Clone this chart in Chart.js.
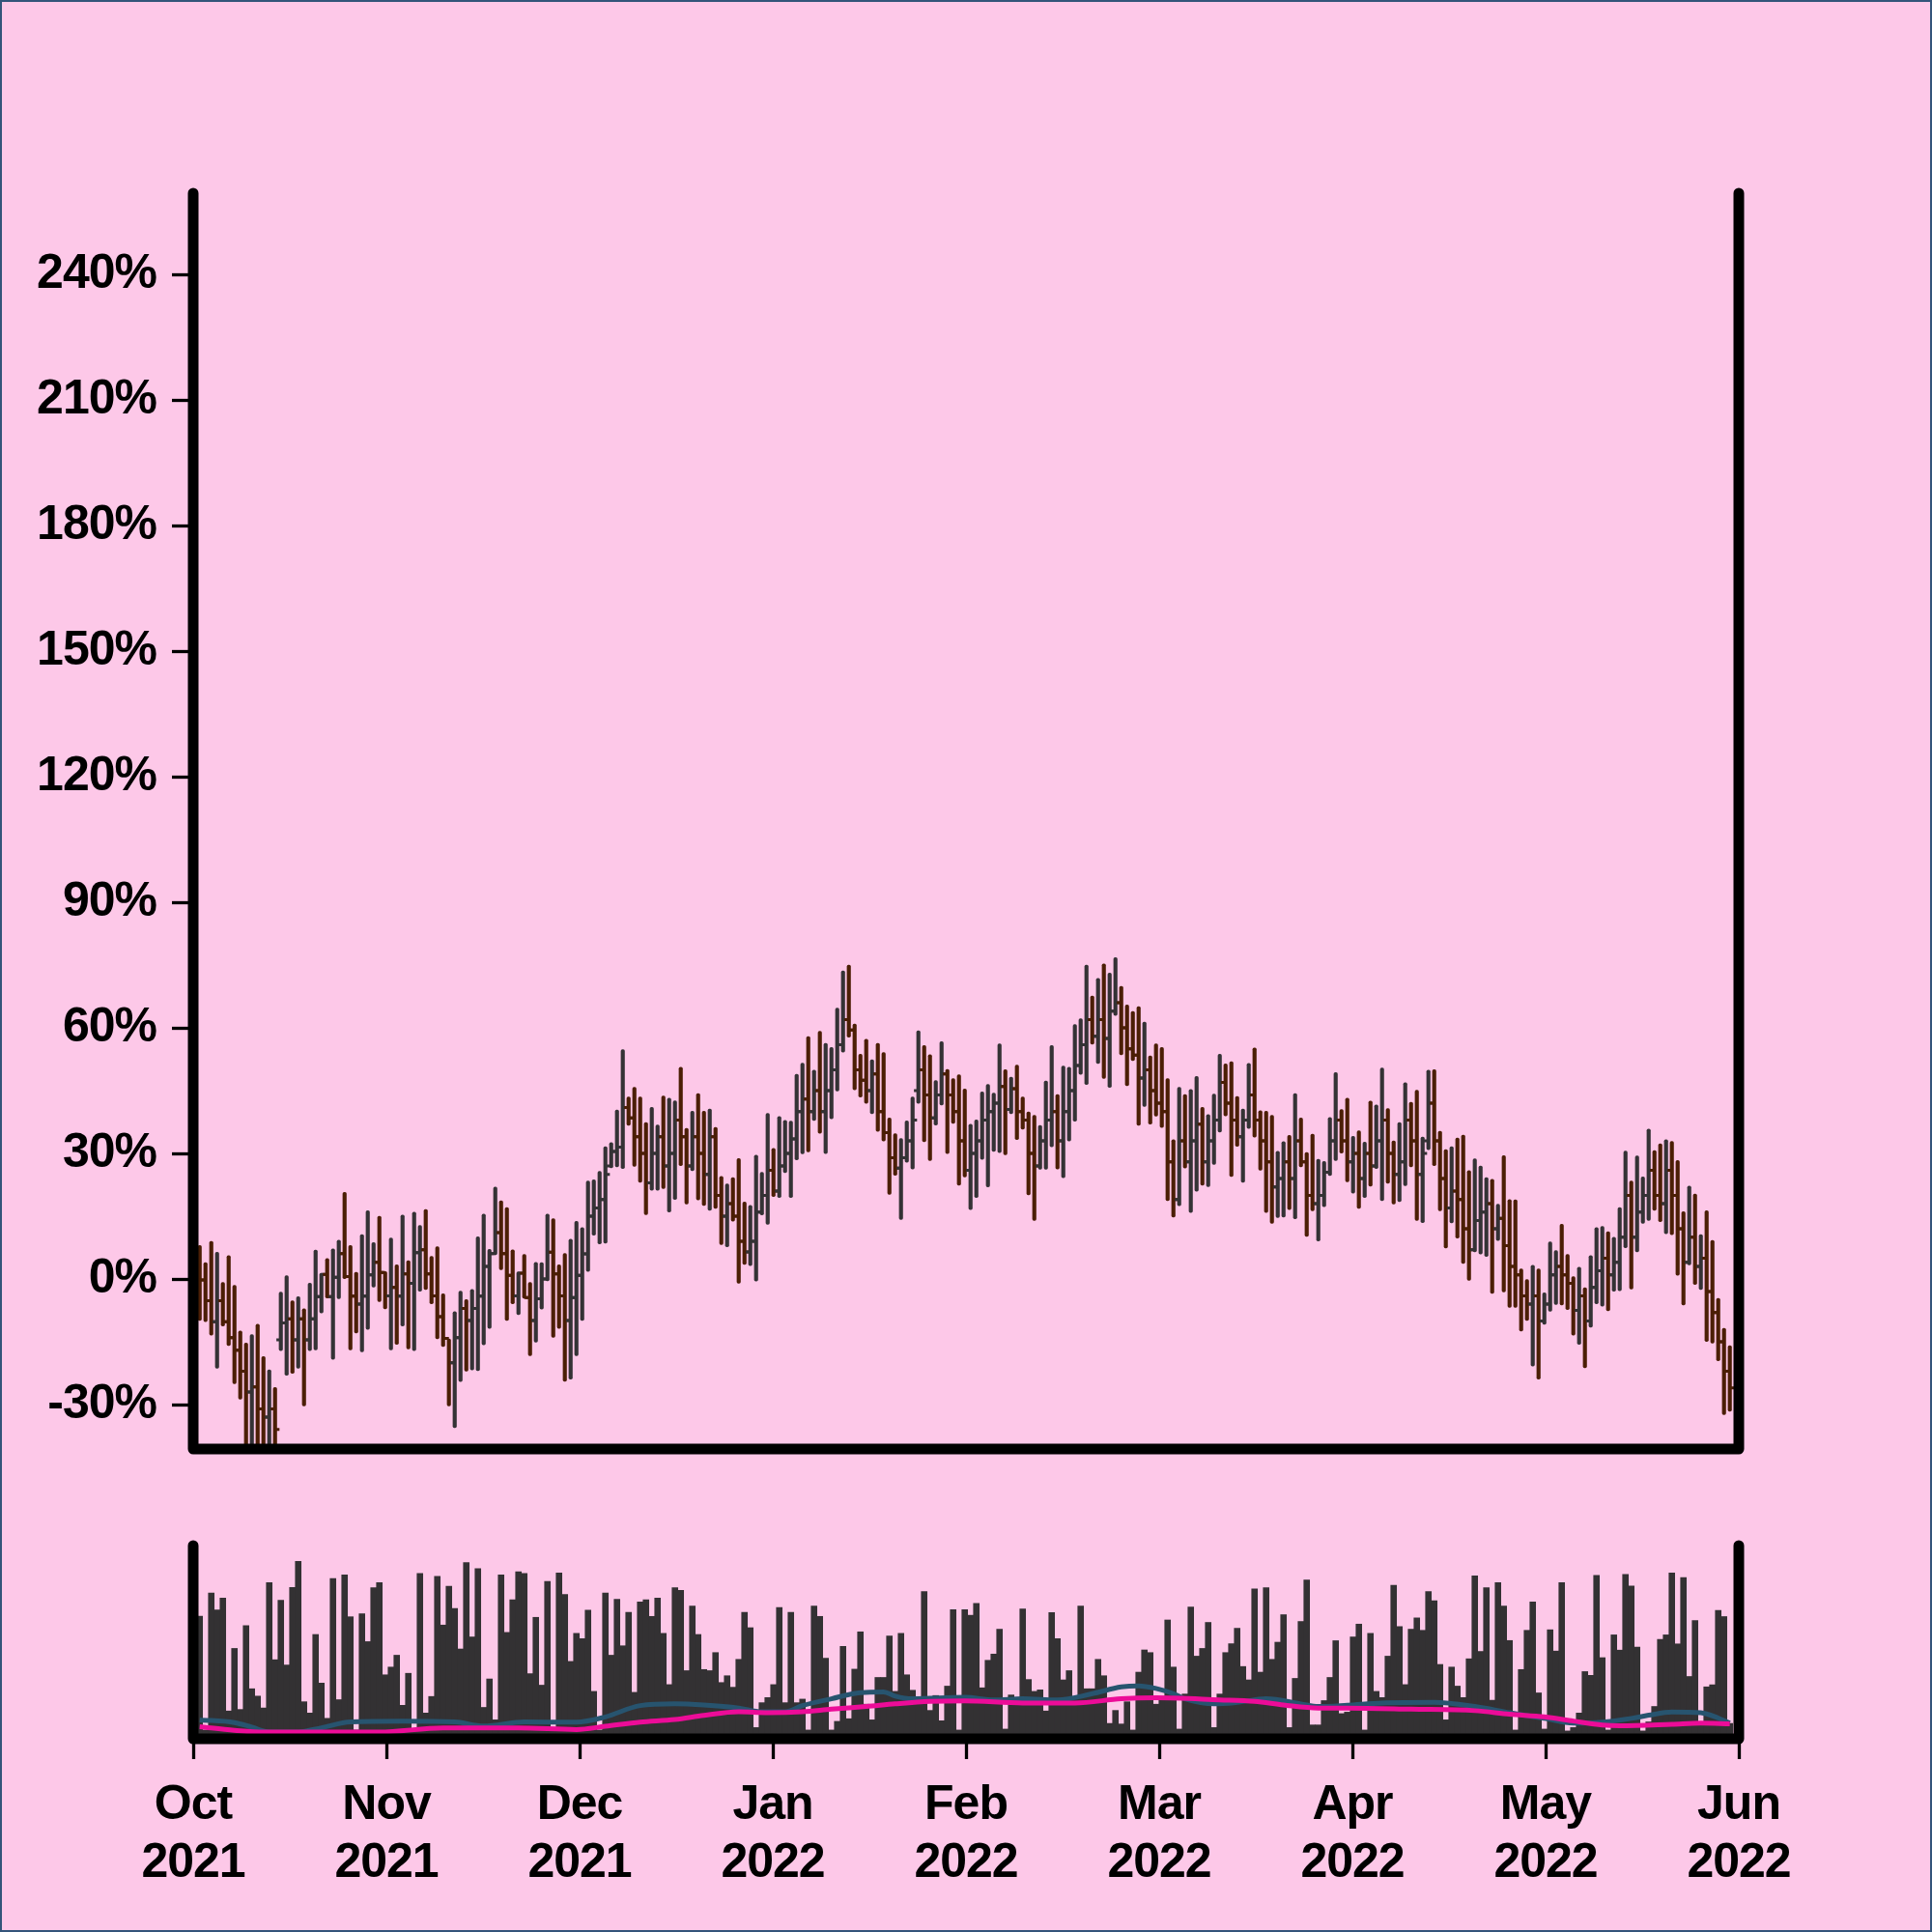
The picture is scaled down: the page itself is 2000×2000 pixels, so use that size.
<!DOCTYPE html>
<html>
<head>
<meta charset="utf-8">
<script src="https://cdn.jsdelivr.net/npm/chart.js@4.4.1/dist/chart.umd.min.js"></script>
<style>
html,body{margin:0;padding:0;background:#fdc8e8;}
#wrap{position:relative;width:2000px;height:2000px;background:#fdc8e8;overflow:hidden;}
#priceCanvas{position:absolute;left:0;top:0;}
#volCanvas{position:absolute;left:0;top:1540px;}
#frame{position:absolute;left:0;top:0;width:2000px;height:2000px;box-sizing:border-box;border:2px solid #33547a;pointer-events:none;}
</style>
</head>
<body>
<div id="wrap">
<canvas id="priceCanvas" width="2000" height="1540"></canvas>
<canvas id="volCanvas" width="2000" height="460"></canvas>
<div id="frame"></div>
</div>
<script>
// ---------- DATA (percent change, one bar per session) ----------
const highs = [
8.0,3.9,9.0,6.4,-0.8,5.6,-1.5,-12.4,-15.3,-13.3,
-10.8,-18.5,-21.7,-25.9,-3.1,0.8,-5.2,-4.2,-7.1,-1.0,
6.9,1.4,4.9,7.2,9.3,20.7,8.0,1.6,10.6,16.3,
8.7,15.0,1.8,9.8,3.4,15.3,4.4,16.0,12.8,16.6,
5.4,7.7,-3.5,-14.3,-7.8,-2.9,-4.9,-2.5,10.1,15.5,
7.1,22.0,18.7,17.1,7.0,1.7,5.9,-0.8,4.0,3.9,
15.5,14.4,3.4,6.1,9.5,13.8,12.3,23.4,23.7,25.7,
31.6,32.6,40.4,54.8,43.5,45.8,43.5,37.4,41.0,36.8,
43.7,43.2,42.6,50.6,36.0,40.1,44.3,40.1,40.6,36.2,
24.5,22.7,24.2,28.8,18.4,17.6,29.6,25.5,39.6,31.2,
38.8,37.9,37.7,48.9,51.6,57.9,49.9,59.2,56.3,55.3,
64.7,73.6,75.0,60.9,53.7,57.3,52.4,56.3,54.1,38.5,
34.7,33.6,37.8,43.5,59.3,55.8,53.6,47.4,56.7,50.1,
47.9,48.8,45.4,37.0,38.0,44.7,46.5,44.4,56.2,50.0,
48.2,51.1,43.5,39.9,39.1,36.7,47.3,55.8,44.1,50.9,
50.6,60.8,62.2,75.0,67.6,71.8,75.3,73.1,76.8,69.9,
65.5,63.9,65.1,61.4,53.3,56.2,55.3,47.9,33.3,45.8,
44.1,45.3,48.4,41.0,39.3,44.2,53.7,51.4,51.9,43.6,
40.6,51.5,55.2,40.2,40.1,39.1,30.5,32.8,34.3,44.3,
38.5,30.2,34.6,28.6,28.1,38.6,49.3,40.5,43.2,34.1,
35.4,32.7,42.5,41.6,50.4,40.7,33.0,37.4,46.9,42.2,
45.1,33.9,49.9,50.0,35.3,30.9,31.6,33.7,34.4,25.9,
28.7,27.0,24.2,23.8,17.9,29.5,19.0,18.9,2.4,0.0,
3.3,2.4,-3.3,8.9,6.8,13.1,5.9,0.6,2.8,-2.1,
5.6,12.3,12.6,11.3,10.0,17.1,30.6,23.4,29.4,24.4,
35.8,30.7,32.3,33.3,32.9,28.3,16.1,22.2,20.3,10.6,
16.3,9.2,-4.6,-11.8,-15.9
];
const lows = [
-9.9,-10.2,-13.4,-21.3,-11.2,-15.9,-25.0,-28.7,-44,-44,
-44,-44,-44,-44,-17.1,-23.0,-22.5,-21.3,-30.3,-17.1,
-16.9,-8.1,-4.5,-19.2,-4.7,0.0,-16.9,-12.9,-17.4,-12.0,
-1.9,-5.4,-7.1,-16.9,-15.6,-11.2,-16.7,-17.1,-2.9,-2.5,
-5.9,-14.3,-16.1,-30.3,-35.5,-24.5,-22.0,-21.7,-21.9,-15.7,
-11.8,5.8,2.2,-9.9,-5.9,-8.5,-4.6,-18.3,-15.1,-7.2,
-0.4,-13.9,-11.8,-24.4,-23.9,-18.3,-9.9,1.8,10.5,8.4,
8.6,26.6,26.8,26.4,36.7,26.9,23.1,15.4,21.2,21.2,
21.6,16.0,19.0,27.1,17.9,25.9,18.9,17.6,16.4,16.9,
8.2,7.7,13.8,-1.0,3.5,3.2,-0.5,15.3,13.1,19.7,
19.5,25.4,19.5,28.5,29.9,30.4,37.9,34.8,30.0,38.3,
44.9,54.2,57.8,45.2,43.5,42.0,39.5,35.3,33.0,20.2,
24.8,14.2,27.9,26.3,42.0,32.8,28.3,36.8,41.6,30.0,
37.2,22.4,24.4,16.6,19.5,28.6,22.0,30.5,30.2,29.7,
39.5,33.3,35.8,20.1,14.0,26.2,26.2,31.6,26.3,24.2,
33.0,37.7,48.9,46.5,56.1,51.5,47.9,45.8,63.0,53.6,
46.2,52.2,36.7,41.2,37.0,38.9,36.2,18.7,14.8,17.5,
26.5,15.9,21.0,22.4,22.1,27.4,35.1,39.0,24.5,31.7,
23.1,36.0,33.9,26.0,15.9,13.3,14.7,14.8,16.6,14.4,
26.8,10.2,16.3,9.1,17.3,24.7,28.3,30.1,23.2,20.5,
16.9,19.5,22.2,26.4,18.7,22.9,17.9,18.5,22.3,26.8,
14.0,13.5,30.9,27.1,16.3,7.4,13.4,9.8,3.7,-0.3,
6.5,6.0,5.4,-3.4,9.2,-3.1,-6.8,-6.8,-12.4,-9.9,
-20.8,-23.9,-10.8,-7.7,-6.1,-6.2,-7.3,-13.4,-15.6,-21.2,
-11.5,-5.9,-6.5,-7.6,-2.9,-2.8,7.5,-2.4,6.5,13.3,
14.0,16.4,13.7,10.8,10.6,0.9,-6.2,3.4,-1.3,-2.5,
-14.9,-15.3,-19.5,-32.4,-31.6
];
const opens = [
3.0,-0.2,-5.2,-10.2,-5.2,-10.2,-14.0,-17.0,-22.0,-27.0,
-25.8,-31.0,-33.0,-31.0,-14.5,-10.5,-9.5,-14.5,-9.5,-14.5,
-9.5,-4.2,1.1,-4.2,0.4,6.1,0.6,-4.1,-6.0,-4.1,
1.0,4.0,1.6,-4.0,-2.0,-4.1,1.2,-1.0,6.3,7.0,
1.2,-4.0,-9.0,-14.2,-20.0,-14.0,-7.0,-9.9,-7.0,-4.1,
3.0,6.1,11.1,6.1,0.9,-4.0,1.4,-4.4,-9.9,-4.7,
0.0,6.4,1.2,-4.0,-9.9,-4.4,0.9,6.0,15.0,17.0,
19.0,27.0,30.5,31.5,41.0,38.5,34.0,30.0,23.0,30.0,
34.0,27.0,30.0,38.0,34.0,27.0,34.0,30.0,25.0,34.0,
20.0,15.0,18.0,15.0,9.0,6.5,9.0,16.0,20.0,26.0,
21.0,27.0,30.0,33.5,40.0,43.0,40.0,45.0,40.0,45.0,
50.0,56.0,62.0,59.5,50.0,47.5,45.0,49.0,40.0,35.0,
29.0,26.5,29.0,33.0,45.0,50.0,44.0,38.5,44.0,49.0,
44.0,40.0,33.0,26.0,30.0,33.0,38.0,40.0,42.0,46.0,
40.5,45.5,40.0,38.0,30.0,27.0,33.0,38.0,40.0,33.0,
40.0,45.0,51.0,56.0,62.0,58.0,62.0,57.5,64.0,66.0,
60.0,55.0,53.5,48.0,50.0,45.0,42.0,40.0,28.0,19.0,
33.0,28.0,33.0,37.0,28.0,33.0,38.0,47.0,42.0,38.0,
34.0,38.0,44.0,38.0,33.0,28.0,22.0,24.0,28.0,24.0,
33.0,28.0,20.0,18.0,20.0,25.5,33.0,38.0,33.0,28.0,
30.0,24.0,30.0,27.0,33.0,38.0,30.0,25.0,28.0,38.0,
33.0,25.0,33.0,42.0,33.0,24.0,17.0,21.0,19.0,12.0,
7.0,14.0,16.0,18.0,12.0,14.5,8.0,3.0,1.0,-4.0,
-6.0,-4.0,-10.0,-6.0,1.0,3.0,1.0,-1.0,-7.5,-4.0,
-10.0,-2.0,2.0,5.0,1.0,4.0,10.0,20.0,10.0,16.0,
20.0,26.0,20.0,18.0,26.0,20.0,12.0,4.0,10.0,3.0,
5.0,-3.0,-8.0,-15.0,-22.0
];
const closes = [
-0.2,-5.2,-10.2,-5.2,-10.2,-14.0,-17.0,-22.0,-27.0,-25.8,
-31.0,-33.0,-31.0,-35.9,-10.5,-9.5,-14.5,-9.5,-14.5,-9.5,
-4.2,1.1,-4.2,0.4,6.1,0.6,-4.1,-6.0,-4.1,1.0,
4.0,1.6,-4.0,-2.0,-4.1,1.2,-1.0,6.3,7.0,1.2,
-4.0,-9.0,-14.2,-20.0,-14.0,-7.0,-9.9,-7.0,-4.1,3.0,
6.1,11.1,6.1,0.9,-4.0,1.4,-4.4,-9.9,-4.7,0.0,
6.4,1.2,-4.0,-9.9,-4.4,0.9,6.0,15.0,17.0,19.0,
25.0,30.5,31.5,41.0,38.5,34.0,30.0,23.0,30.0,34.0,
27.0,30.0,38.0,34.0,27.0,34.0,30.0,25.0,34.0,20.0,
15.0,18.0,15.0,9.0,6.5,9.0,16.0,20.0,26.0,21.0,
27.0,30.0,33.5,40.0,43.0,40.0,45.0,40.0,45.0,50.0,
56.0,62.0,59.5,50.0,47.5,45.0,49.0,40.0,35.0,29.0,
26.5,29.0,33.0,38.0,50.0,44.0,38.5,44.0,49.0,44.0,
40.0,33.0,26.0,30.0,33.0,38.0,40.0,42.0,46.0,40.5,
45.5,40.0,38.0,30.0,27.0,33.0,38.0,40.0,33.0,40.0,
45.0,51.0,56.0,62.0,58.0,62.0,57.5,64.0,66.0,60.0,
55.0,53.5,48.0,50.0,45.0,42.0,40.0,28.0,19.0,33.0,
28.0,33.0,37.0,28.0,33.0,38.0,47.0,42.0,38.0,34.0,
38.0,44.0,38.0,33.0,28.0,22.0,24.0,28.0,24.0,33.0,
28.0,20.0,18.0,20.0,25.5,33.0,38.0,33.0,28.0,30.0,
24.0,30.0,27.0,33.0,38.0,30.0,25.0,28.0,38.0,33.0,
25.0,30.0,42.0,33.0,24.0,17.0,21.0,19.0,12.0,7.0,
14.0,16.0,18.0,12.0,14.5,8.0,3.0,1.0,-4.0,-6.0,
-4.0,-10.0,-6.0,1.0,3.0,1.0,-1.0,-7.5,-4.0,-10.0,
-2.0,2.0,5.0,1.0,4.0,10.0,20.0,10.0,16.0,20.0,
26.0,20.0,18.0,26.0,20.0,12.0,4.0,10.0,3.0,5.0,
-3.0,-8.0,-15.0,-22.0,-26.0
];
const volumes = [
61.9,1.5,74.2,65.2,71.5,11.6,44.8,12.4,56.9,23.4,
19.5,13.2,79.7,38.8,70.4,36.0,77.2,91.0,16.5,10.5,
52.2,26.4,7.7,81.9,17.6,83.8,61.6,1.5,63.2,48.4,
77.0,79.7,30.8,34.9,41.2,14.6,31.6,1.5,84.6,10.5,
19.3,83.0,57.2,77.8,66.0,44.5,90.4,50.9,87.1,13.5,
28.6,6.9,83.8,53.3,70.6,85.5,84.6,31.4,61.3,25.3,
80.3,1.5,84.9,73.4,37.9,52.8,50.0,65.1,22.0,1.5,
74.2,41.2,70.9,46.2,64.0,21.5,69.5,70.6,61.8,71.5,
52.8,25.6,77.0,75.6,33.0,67.3,52.2,33.6,33.0,42.6,
26.7,30.3,24.2,39.0,64.0,55.8,2.8,16.0,18.7,25.6,
66.5,16.0,64.0,16.0,17.9,1.5,67.3,61.8,39.6,1.5,
6.1,45.9,7.5,33.8,53.6,15.2,6.9,29.4,29.4,51.4,
22.0,52.8,30.8,22.6,17.9,75.0,11.9,19.8,6.4,24.8,
65.4,1.5,65.4,62.4,68.7,23.9,38.5,41.8,55.0,2.0,
20.1,16.5,65.7,28.3,22.0,22.8,11.6,63.8,50.0,28.1,
33.0,17.9,67.3,23.4,23.4,39.0,30.3,5.0,11.9,4.7,
16.5,1.5,32.2,44.0,42.6,15.2,17.9,59.9,34.9,2.0,
20.6,66.8,40.7,44.8,58.6,2.8,20.6,42.6,47.3,55.5,
35.2,28.1,76.4,32.2,77.0,39.0,48.1,62.7,2.8,28.9,
59.1,81.1,4.2,4.2,17.1,29.4,48.9,10.2,11.0,50.9,
57.7,1.5,52.8,22.0,18.7,40.7,78.3,56.4,25.6,55.0,
61.0,54.4,75.0,70.1,36.3,6.9,34.9,24.8,18.7,39.3,
83.3,43.2,77.0,17.3,79.7,67.3,49.0,1.5,33.6,54.4,
69.5,21.2,2.0,54.7,43.4,79.7,1.0,2.8,10.5,32.5,
30.5,83.6,39.9,1.5,52.0,43.9,84.1,77.9,45.5,1.0,
5.8,14.0,49.6,52.0,84.8,47.2,82.4,29.9,59.6,5.0,
24.4,25.5,65.0,61.7,5.0
];
// moving averages of volume (sampled at bar indices)
const maShortX = [0,6,9,12,17,21,26,35,44,49,56,65,70,76,82,87,93,97,101,104,109,114,118,120,123,132,137,142,148,154,159,162,165,168,170,175,179,184,190,193,198,204,213,220,226,232,237,242,247,250,254,259,262,264];
const maShortY = [6.7,5.3,2.9,0.3,0.3,2.5,5.6,6.0,5.6,3.5,5.6,5.5,8.3,14.3,15.2,14.6,13.0,11.0,11.0,14.3,17.9,21.2,21.5,19.3,17.9,18.7,17.3,17.9,17.3,20.6,24.2,24.8,23.4,20.6,17.9,15.2,16.0,17.9,15.2,13.8,14.5,15.7,16.0,13.8,10.5,7.5,5.0,5.5,7.5,9.2,10.9,10.5,7.7,5.0];
const maLongX = [0,6,11,31,42,55,65,70,76,82,87,93,98,104,109,115,120,126,132,142,151,159,165,176,182,187,193,198,209,220,226,232,237,242,245,254,259,264];
const maLongY = [3.1,1.2,0.2,0.3,2.4,2.4,1.6,3.3,5.5,6.9,9.1,11.0,10.5,11.0,12.4,13.8,15.2,16.5,16.8,15.7,15.7,17.9,18.4,17.3,16.5,14.6,13.0,13.0,12.4,11.6,9.7,8.3,6.1,4.0,3.6,4.4,5.0,4.6];
// axis tick labels
const monthLabels = ['Oct','Nov','Dec','Jan','Feb','Mar','Apr','May','Jun'];
const yearLabels = ['2021','2021','2021','2022','2022','2022','2022','2022','2022'];
const yTickValues = [-30,0,30,60,90,120,150,180,210,240];

// ---------- STYLE / LAYOUT ----------
const X_MIN = -1.12, X_MAX = 265.55;
const UP = '#343235', DOWN = '#4b1e05', VOL = '#333133';
const BLUE = '#27546f', PINK = '#ec0c98';
const FONT = {family:'"Liberation Sans", Arial, Helvetica, sans-serif', size:50, weight:'bold', lineHeight:1.2};

const idx = highs.map((_, i) => i);
const barColors = idx.map(i => closes[i] >= opens[i] ? UP : DOWN);

const tightText = {
  id:'tightText',
  beforeLayout(c){ c.ctx.letterSpacing = '-1px'; },
  beforeDraw(c){ c.ctx.letterSpacing = '-1px'; }
};
const spines = {
  id:'spines',
  afterDraw(chart){
    const {ctx, chartArea:a} = chart;
    ctx.save();
    ctx.beginPath();
    ctx.moveTo(a.left, a.top);
    ctx.lineTo(a.left, a.bottom);
    ctx.lineTo(a.right, a.bottom);
    ctx.lineTo(a.right, a.top);
    ctx.lineWidth = 11; ctx.lineCap = 'round'; ctx.lineJoin = 'round';
    ctx.strokeStyle = '#000';
    ctx.stroke();
    ctx.restore();
  }
};
const ohlcTicks = {
  id:'ohlcTicks',
  afterDatasetsDraw(chart){
    const {ctx, chartArea:a, scales:{x, y}} = chart;
    ctx.save();
    ctx.beginPath();
    ctx.rect(a.left, a.top, a.right - a.left, a.bottom - a.top);
    ctx.clip();
    ctx.lineWidth = 3; ctx.lineCap = 'butt';
    const half = 4.6;
    idx.forEach(i => {
      const px = x.getPixelForValue(i);
      const yo = y.getPixelForValue(opens[i]);
      const yc = y.getPixelForValue(closes[i]);
      ctx.strokeStyle = barColors[i];
      ctx.beginPath();
      ctx.moveTo(px - half, yo); ctx.lineTo(px, yo);
      ctx.moveTo(px, yc); ctx.lineTo(px + half, yc);
      ctx.stroke();
    });
    ctx.restore();
  }
};

new Chart(document.getElementById('priceCanvas'), {
  type:'bar',
  data:{ datasets:[{
    data: idx.map(i => ({x:i, y:[lows[i], highs[i]]})),
    backgroundColor: barColors, borderWidth:0, barThickness:3.5,
    borderRadius:2, borderSkipped:false
  }]},
  options:{
    responsive:false, animation:false, events:[], devicePixelRatio:1,
    layout:{padding:{left:0, right:200, top:200, bottom:40}},
    plugins:{legend:{display:false}, tooltip:{enabled:false}},
    scales:{
      x:{type:'linear', min:X_MIN, max:X_MAX, display:false, offset:false, grid:{offset:false}},
      y:{type:'linear', min:-40.6, max:259.4,
        afterFit(s){ s.width = 200; s.paddingTop = 0; s.paddingBottom = 0; },
        afterBuildTicks(s){ s.ticks = yTickValues.map(v => ({value:v})); },
        grid:{drawOnChartArea:false, drawTicks:true, tickLength:22, tickWidth:3.3, tickColor:'#000'},
        border:{display:false},
        ticks:{padding:16, color:'#000', font:FONT, callback:v => v + '%'}
      }
    }
  },
  plugins:[tightText, ohlcTicks, spines]
});

new Chart(document.getElementById('volCanvas'), {
  type:'bar',
  data:{ datasets:[
    {type:'line', data: maLongX.map((x,k) => ({x, y:maLongY[k]})), borderColor:PINK, borderWidth:5,
     pointRadius:0, cubicInterpolationMode:'monotone', fill:false, order:0},
    {type:'line', data: maShortX.map((x,k) => ({x, y:maShortY[k]})), borderColor:BLUE, borderWidth:5,
     pointRadius:0, cubicInterpolationMode:'monotone', fill:false, order:1},
    {type:'bar', data: idx.map(i => ({x:i, y:volumes[i]})), backgroundColor:VOL, borderWidth:0,
     base:-2, barPercentage:1.1, categoryPercentage:1, order:2}
  ]},
  options:{
    responsive:false, animation:false, events:[], devicePixelRatio:1,
    layout:{padding:{left:200, right:200, top:60, bottom:0}},
    plugins:{legend:{display:false}, tooltip:{enabled:false}},
    scales:{
      x:{type:'linear', min:X_MIN, max:X_MAX, offset:false,
        afterFit(s){ s.height = 200; s.paddingLeft = 0; s.paddingRight = 0; },
        afterBuildTicks(s){
          const n = monthLabels.length - 1;
          s.ticks = monthLabels.map((_, k) => ({value: X_MIN + k * (X_MAX - X_MIN) / n}));
        },
        grid:{drawOnChartArea:false, drawTicks:true, tickLength:21, tickWidth:3.3, tickColor:'#000', offset:false},
        border:{display:false},
        ticks:{padding:18, color:'#000', font:FONT, maxRotation:0, autoSkip:false,
          callback:(v, k) => [monthLabels[k], yearLabels[k]]}
      },
      y:{type:'linear', min:-3.33, max:99.2, display:false}
    }
  },
  plugins:[tightText, spines]
});
</script>
</body>
</html>
